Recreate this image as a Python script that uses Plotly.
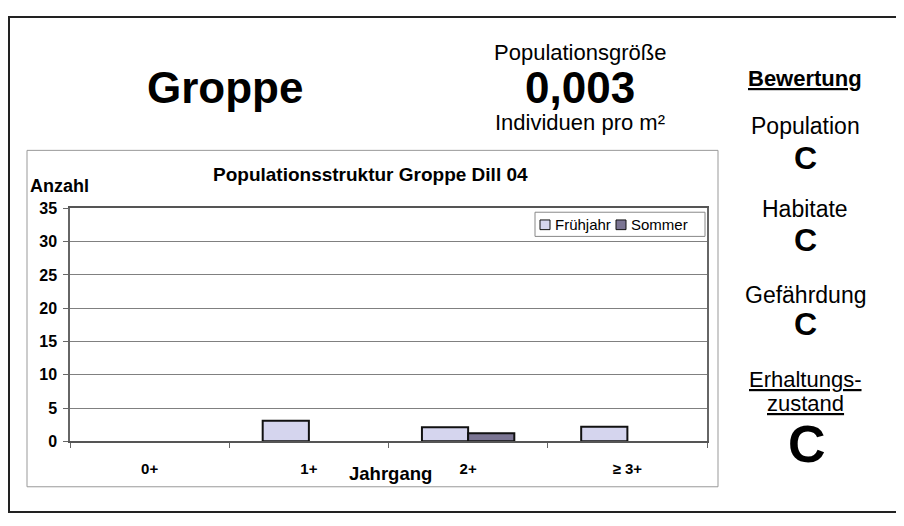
import plotly.graph_objects as go

categories = ["0+", "1+", "2+", "≥ 3+"]
fruehjahr = [None, 3.1, 2.1, 2.2]
sommer = [None, None, 1.2, None]
y_ticks = [0, 5, 10, 15, 20, 25, 30, 35]
series_names = ["Frühjahr", "Sommer"]
series_colors = ["#D5D5EE", "#7B7593"]

chart_title = "Populationsstruktur Groppe Dill 04"
species = "Groppe"
density_label = "Populationsgröße"
density_value = "0,003"
density_unit = "Individuen pro m²"
rating_title = "Bewertung"
ratings = [("Population", "C"), ("Habitate", "C"), ("Gefährdung", "C")]
overall_label = ["Erhaltungs-", "zustand"]
overall_value = "C"

# figure is sized so that page (with 8px body margin) fits the 904x526 window
W, H = 888, 510
OFF = 8
FONT = "Liberation Sans"


def px(x):
    return (x - OFF) / W


def py(y):
    return 1 - (y - OFF) / H


fig = go.Figure()
fig.add_trace(go.Bar(
    x=categories, y=fruehjahr, name=series_names[0],
    marker=dict(color=series_colors[0], line=dict(color="#111111", width=2)),
))
fig.add_trace(go.Bar(
    x=categories, y=sommer, name=series_names[1],
    marker=dict(color=series_colors[1], line=dict(color="#111111", width=2)),
))

fig.update_layout(
    width=W, height=H,
    margin=dict(l=0, r=0, t=0, b=0),
    paper_bgcolor="white", plot_bgcolor="white",
    font=dict(family=FONT, color="black"),
    barmode="group", bargap=0.42, bargroupgap=0,
    showlegend=False,
    xaxis=dict(
        domain=[px(70), px(707)],
        showgrid=False, showline=True, linecolor="#555555", linewidth=1.5, mirror=True,
        ticks="outside", tickson="boundaries", ticklen=5, tickcolor="#666666",
        tickfont=dict(size=15, family=FONT, weight="bold"),
        ticklabelstandoff=13,
    ),
    yaxis=dict(
        domain=[py(448), py(207)], range=[0, 35],
        tickvals=y_ticks, ticks="outside", ticklen=5, tickcolor="#666666",
        showgrid=True, gridcolor="#808080", gridwidth=1,
        showline=True, linecolor="#666666", linewidth=1.5, mirror=True,
        zeroline=False,
        tickfont=dict(size=16, family=FONT, weight="bold"),
        ticklabelstandoff=3,
    ),
)

shapes = [
    # outer frame (right edge lies beyond the visible area)
    dict(type="rect", xref="paper", yref="paper", x0=px(9), x1=px(960), y0=py(521), y1=py(9),
         line=dict(color="#222222", width=2)),
    # chart box
    dict(type="rect", xref="paper", yref="paper", x0=px(27), x1=px(718), y0=py(495), y1=py(147),
         line=dict(color="#999999", width=1)),
    # legend box
    dict(type="rect", xref="paper", yref="paper", x0=px(535), x1=px(705), y0=py(236), y1=py(211),
         line=dict(color="#888888", width=1), fillcolor="white"),
]
# legend swatches
sw_x = [540, 616]
for sx, col in zip(sw_x, series_colors):
    shapes.append(dict(type="rect", xref="paper", yref="paper", x0=px(sx), x1=px(sx + 10),
                       y0=py(229), y1=py(219), fillcolor=col, line=dict(color="#111111", width=1)))
fig.update_layout(shapes=shapes)


def ann(text, x, y, size, bold=False, under=False, anchor="center"):
    t = "<u>" + text + "</u>" if under else text
    fig.add_annotation(
        text=t, x=px(x), y=py(y), xref="paper", yref="paper",
        xanchor=anchor, yanchor="middle", showarrow=False,
        font=dict(size=size, family=FONT, color="black", weight="bold" if bold else "normal"),
    )


for sx, name in zip(sw_x, series_names):
    ann(name, sx + 13, 224, 15, anchor="left")

ann(species, 225, 82, 44, bold=True)
ann(density_label, 580, 46, 22)
ann(density_value, 580, 82, 44, bold=True)
ann(density_unit, 580, 118, 22)

ann(chart_title, 370, 172, 19, bold=True)
ann("Anzahl", 59, 184, 18, bold=True)
ann("Jahrgang", 390, 481, 18.5, bold=True)

ann(rating_title, 805, 73, 22, bold=True, under=True)
ys = [(122, 155), (208, 240), (297, 327)]
for (lab, val), (yl, yv) in zip(ratings, ys):
    ann(lab, 805, yl, 23)
    ann(val, 805, yv, 32, bold=True)
ann(overall_label[0], 805, 384, 22, under=True)
ann(overall_label[1], 805, 409, 22, under=True)
ann(overall_value, 807, 451, 52, bold=True)

fig.write_html("out.html")
